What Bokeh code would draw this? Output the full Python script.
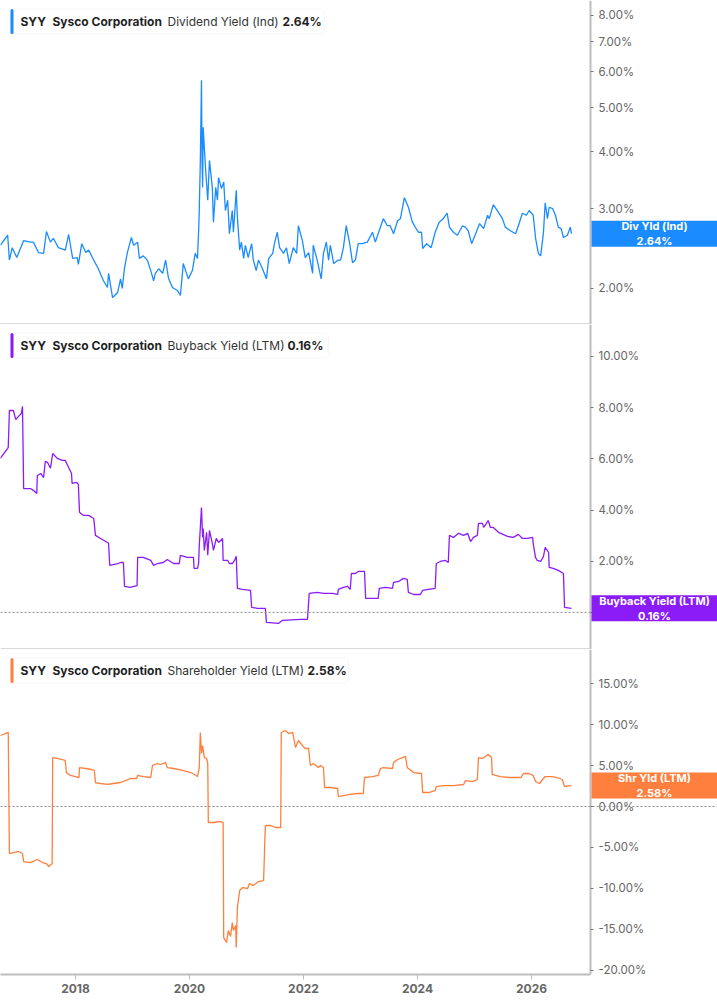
import math

from bokeh.plotting import figure
from bokeh.layouts import column
from bokeh.models import Range1d, FixedTicker, PrintfTickFormatter, Span, BoxAnnotation, Label
from bokeh.embed import file_html
from bokeh.resources import INLINE

# ---- data (years as decimals, values in %) ----
div_year = [2016.68, 2016.81, 2016.84, 2016.89, 2016.97, 2017.09, 2017.21, 2017.26, 2017.35, 2017.44,
            2017.49, 2017.56, 2017.61, 2017.70, 2017.82, 2017.88, 2017.95, 2018.03, 2018.05, 2018.11,
            2018.18, 2018.23, 2018.32, 2018.40, 2018.49, 2018.56, 2018.58, 2018.65, 2018.74, 2018.79,
            2018.82, 2018.86, 2018.91, 2018.98, 2019.02, 2019.09, 2019.12, 2019.19, 2019.26, 2019.32,
            2019.37, 2019.40, 2019.46, 2019.53, 2019.58, 2019.63, 2019.70, 2019.79, 2019.84, 2019.88,
            2019.89, 2019.98, 2020.05, 2020.10, 2020.14, 2020.16, 2020.17, 2020.19, 2020.21, 2020.22,
            2020.23, 2020.24, 2020.28, 2020.32, 2020.35, 2020.40, 2020.42, 2020.46, 2020.49, 2020.51,
            2020.56, 2020.60, 2020.63, 2020.67, 2020.70, 2020.75, 2020.77, 2020.82, 2020.84, 2020.88,
            2020.91, 2020.95, 2020.98, 2021.03, 2021.09, 2021.12, 2021.17, 2021.21, 2021.28, 2021.35,
            2021.39, 2021.46, 2021.49, 2021.54, 2021.58, 2021.65, 2021.70, 2021.75, 2021.82, 2021.88,
            2021.91, 2021.98, 2022.03, 2022.09, 2022.16, 2022.17, 2022.24, 2022.31, 2022.35, 2022.40,
            2022.44, 2022.47, 2022.53, 2022.61, 2022.65, 2022.70, 2022.75, 2022.81, 2022.86, 2022.91,
            2022.96, 2023.03, 2023.12, 2023.21, 2023.26, 2023.31, 2023.40, 2023.47, 2023.52, 2023.58,
            2023.65, 2023.70, 2023.77, 2023.84, 2023.91, 2023.96, 2024.02, 2024.07, 2024.09, 2024.16,
            2024.24, 2024.31, 2024.38, 2024.45, 2024.52, 2024.56, 2024.63, 2024.70, 2024.79, 2024.84,
            2024.89, 2024.95, 2025.02, 2025.09, 2025.16, 2025.23, 2025.26, 2025.33, 2025.40, 2025.49,
            2025.54, 2025.63, 2025.72, 2025.77, 2025.84, 2025.91, 2025.96, 2026.03, 2026.07, 2026.12,
            2026.16, 2026.19, 2026.21, 2026.24, 2026.28, 2026.31, 2026.37, 2026.42, 2026.47, 2026.52,
            2026.56, 2026.63, 2026.68, 2026.70]
div_yield = [2.49, 2.62, 2.31, 2.46, 2.34, 2.55, 2.53, 2.53, 2.40, 2.39,
             2.67, 2.53, 2.58, 2.46, 2.43, 2.63, 2.33, 2.34, 2.26, 2.51,
             2.40, 2.43, 2.31, 2.21, 2.08, 2.01, 2.16, 1.91, 1.96, 2.10,
             2.00, 2.22, 2.40, 2.59, 2.49, 2.53, 2.33, 2.36, 2.31, 2.19,
             2.08, 2.16, 2.21, 2.16, 2.31, 2.11, 2.01, 1.98, 1.93, 2.19,
             2.27, 2.10, 2.19, 2.39, 2.33, 2.68, 2.93, 3.83, 5.75, 3.83,
             3.34, 4.53, 3.70, 3.13, 3.83, 3.34, 2.80, 3.34, 3.13, 3.51,
             3.32, 3.43, 2.97, 3.13, 2.64, 2.97, 2.66, 3.29, 2.87, 2.43,
             2.53, 2.33, 2.49, 2.34, 2.51, 2.31, 2.19, 2.31, 2.21, 2.10,
             2.33, 2.39, 2.51, 2.66, 2.46, 2.39, 2.46, 2.27, 2.46, 2.39,
             2.75, 2.55, 2.34, 2.40, 2.16, 2.49, 2.31, 2.10, 2.39, 2.53,
             2.31, 2.49, 2.27, 2.31, 2.31, 2.46, 2.75, 2.51, 2.28, 2.31,
             2.51, 2.51, 2.53, 2.66, 2.53, 2.64, 2.85, 2.75, 2.75, 2.64,
             2.82, 2.85, 3.17, 3.02, 2.80, 2.73, 2.66, 2.66, 2.45, 2.51,
             2.46, 2.66, 2.80, 2.85, 2.93, 2.73, 2.66, 2.62, 2.75, 2.73,
             2.68, 2.51, 2.64, 2.78, 2.71, 2.90, 2.85, 3.06, 2.97, 2.85,
             2.73, 2.68, 2.64, 2.75, 2.93, 2.90, 2.97, 2.90, 2.59, 2.39,
             2.36, 2.53, 2.66, 3.09, 2.85, 3.02, 3.00, 2.90, 2.73, 2.71,
             2.59, 2.62, 2.73, 2.64]

buy_year = [2016.68, 2016.81, 2016.82, 2016.84, 2016.91, 2016.95, 2017.00, 2017.05, 2017.07, 2017.09,
            2017.21, 2017.26, 2017.32, 2017.33, 2017.39, 2017.44, 2017.47, 2017.51, 2017.56, 2017.60,
            2017.68, 2017.77, 2017.82, 2017.88, 2017.93, 2017.94, 2018.02, 2018.05, 2018.07, 2018.14,
            2018.23, 2018.32, 2018.35, 2018.44, 2018.56, 2018.58, 2018.60, 2018.74, 2018.79, 2018.84,
            2018.86, 2018.96, 2019.08, 2019.09, 2019.19, 2019.32, 2019.37, 2019.44, 2019.54, 2019.61,
            2019.72, 2019.82, 2019.84, 2019.96, 2020.07, 2020.08, 2020.14, 2020.16, 2020.17, 2020.21,
            2020.23, 2020.24, 2020.26, 2020.30, 2020.32, 2020.35, 2020.40, 2020.42, 2020.47, 2020.51,
            2020.58, 2020.59, 2020.67, 2020.70, 2020.75, 2020.79, 2020.82, 2020.84, 2020.93, 2021.07,
            2021.09, 2021.19, 2021.33, 2021.35, 2021.56, 2021.63, 2021.95, 2022.07, 2022.10, 2022.24,
            2022.35, 2022.51, 2022.60, 2022.61, 2022.70, 2022.77, 2022.82, 2022.84, 2022.91, 2022.96,
            2023.07, 2023.09, 2023.21, 2023.31, 2023.33, 2023.44, 2023.56, 2023.58, 2023.67, 2023.75,
            2023.82, 2023.84, 2023.93, 2024.05, 2024.09, 2024.19, 2024.31, 2024.33, 2024.40, 2024.49,
            2024.54, 2024.56, 2024.63, 2024.72, 2024.81, 2024.88, 2024.93, 2024.98, 2025.05, 2025.07,
            2025.14, 2025.16, 2025.21, 2025.24, 2025.28, 2025.33, 2025.42, 2025.58, 2025.68, 2025.77,
            2025.84, 2025.93, 2026.02, 2026.03, 2026.07, 2026.10, 2026.16, 2026.21, 2026.24, 2026.30,
            2026.31, 2026.38, 2026.47, 2026.56, 2026.58, 2026.70]
buy_yield = [6.02, 6.41, 6.45, 7.89, 7.89, 7.54, 7.66, 7.77, 8.05, 4.84,
             4.84, 4.77, 4.65, 5.35, 5.43, 5.27, 5.90, 5.86, 5.63, 6.21,
             6.02, 5.94, 5.94, 5.66, 5.43, 5.04, 5.08, 5.00, 3.91, 3.79,
             3.79, 3.67, 3.01, 2.89, 2.73, 2.70, 1.84, 1.91, 1.95, 1.95,
             1.02, 0.98, 1.05, 2.15, 2.15, 2.03, 1.84, 1.91, 1.95, 2.07,
             1.91, 1.91, 2.23, 2.15, 2.15, 1.72, 1.72, 1.91, 2.54, 4.10,
             2.93, 3.28, 2.42, 3.13, 2.23, 3.20, 2.70, 2.42, 2.89, 2.73,
             2.89, 2.03, 2.03, 1.91, 1.91, 2.03, 2.19, 0.94, 0.90, 0.86,
             0.20, 0.16, 0.16, -0.39, -0.43, -0.31, -0.27, -0.27, 0.74, 0.78,
             0.74, 0.74, 0.70, 0.90, 0.98, 1.02, 0.90, 1.52, 1.52, 1.60,
             1.60, 0.55, 0.55, 0.55, 0.94, 0.98, 0.94, 1.17, 1.21, 1.33,
             1.29, 0.78, 0.70, 0.70, 0.86, 0.90, 0.94, 1.91, 1.99, 2.03,
             1.95, 3.01, 2.93, 3.09, 3.01, 3.09, 2.77, 2.93, 3.01, 3.48,
             3.48, 3.32, 3.48, 3.59, 3.32, 3.32, 3.13, 2.97, 2.93, 3.05,
             2.89, 2.89, 2.93, 2.70, 2.15, 2.03, 1.99, 2.19, 2.54, 2.34,
             1.76, 1.72, 1.64, 1.52, 0.20, 0.16]

shr_year = [2016.68, 2016.77, 2016.82, 2016.84, 2016.91, 2017.00, 2017.07, 2017.09, 2017.21, 2017.33,
            2017.42, 2017.49, 2017.53, 2017.59, 2017.60, 2017.70, 2017.82, 2017.84, 2017.91, 2018.00,
            2018.06, 2018.07, 2018.18, 2018.28, 2018.33, 2018.35, 2018.44, 2018.56, 2018.67, 2018.79,
            2018.88, 2018.96, 2019.07, 2019.09, 2019.19, 2019.32, 2019.35, 2019.44, 2019.49, 2019.58,
            2019.61, 2019.72, 2019.88, 2020.02, 2020.09, 2020.14, 2020.17, 2020.19, 2020.21, 2020.23,
            2020.26, 2020.30, 2020.32, 2020.33, 2020.42, 2020.53, 2020.59, 2020.60, 2020.65, 2020.68,
            2020.72, 2020.75, 2020.77, 2020.81, 2020.82, 2020.84, 2020.88, 2020.93, 2021.02, 2021.05,
            2021.12, 2021.21, 2021.30, 2021.33, 2021.42, 2021.51, 2021.60, 2021.61, 2021.68, 2021.74,
            2021.81, 2021.86, 2021.91, 2021.98, 2022.03, 2022.09, 2022.12, 2022.17, 2022.26, 2022.30,
            2022.35, 2022.37, 2022.47, 2022.60, 2022.61, 2022.70, 2022.82, 2022.95, 2023.05, 2023.07,
            2023.21, 2023.31, 2023.35, 2023.40, 2023.56, 2023.58, 2023.65, 2023.74, 2023.79, 2023.82,
            2023.93, 2024.07, 2024.09, 2024.19, 2024.31, 2024.33, 2024.45, 2024.63, 2024.81, 2024.84,
            2024.96, 2025.05, 2025.07, 2025.14, 2025.19, 2025.24, 2025.30, 2025.31, 2025.45, 2025.63,
            2025.81, 2025.86, 2025.95, 2026.03, 2026.07, 2026.14, 2026.21, 2026.24, 2026.37, 2026.45,
            2026.54, 2026.58, 2026.70]
shr_yield = [8.67, 8.91, 9.04, -5.74, -5.62, -5.49, -5.74, -6.72, -6.84, -6.47,
             -6.84, -6.96, -7.33, -6.96, 5.98, 5.86, 5.62, 4.15, 3.79, 3.66,
             3.54, 4.76, 4.64, 4.52, 4.40, 2.93, 2.81, 2.69, 2.81, 2.93,
             3.17, 3.42, 3.42, 3.79, 3.66, 3.54, 5.01, 5.25, 5.13, 5.37,
             4.76, 4.64, 4.40, 4.15, 3.91, 3.66, 4.64, 9.04, 6.47, 7.45,
             5.98, 5.86, 5.25, -1.95, -1.95, -1.83, -1.95, -16.00, -16.60, -15.14,
             -15.87, -14.16, -15.14, -14.53, -17.22, -12.33, -10.26, -9.89, -10.01, -9.40,
             -9.65, -9.16, -9.04, -2.32, -2.32, -2.56, -2.56, 9.04, 9.28, 8.91,
             9.04, 7.20, 8.06, 7.45, 7.08, 7.08, 5.01, 5.25, 4.76, 5.01,
             4.76, 2.32, 2.32, 2.20, 1.22, 1.34, 1.47, 1.59, 1.59, 3.54,
             3.66, 3.79, 4.64, 4.76, 4.64, 5.37, 5.74, 5.98, 6.11, 4.76,
             4.15, 4.03, 1.71, 1.71, 1.95, 2.44, 2.56, 2.56, 2.69, 3.17,
             3.05, 3.30, 5.98, 5.86, 6.11, 6.35, 5.98, 3.91, 3.66, 3.54,
             3.54, 4.03, 4.03, 3.79, 3.05, 2.81, 3.42, 3.66, 3.66, 3.54,
             3.30, 2.44, 2.58]

year_ticks = [2018, 2020, 2022, 2024, 2026]
div_ticks = [2, 3, 4, 5, 6, 7, 8]
buy_ticks = [0, 2, 4, 6, 8, 10]
shr_ticks = [-20, -15, -10, -5, 0, 5, 10, 15]

# ---- layout / styling ----
FONT = "Inter"
W = 717            # full frame width
AX = 590           # pixel position of the value axis inside the frame
BLUE, PURPLE, ORANGE = "#1a8cff", "#8a1cf7", "#ff7f3e"

x_start, x_axis = 2016.684, 2027.035
x_end = x_start + (x_axis - x_start) * W / AX
x_range = Range1d(x_start, x_end)


def make_panel(years, vals, color, fh, y_start, y_end, ticks, log, title_parts, head_x,
               head_right, tag, with_x_axis=False, zero_line=False):
    p = figure(frame_width=W, frame_height=fh, x_range=x_range,
               y_range=Range1d(y_start, y_end), y_axis_type="log" if log else "linear",
               y_axis_location="right", toolbar_location=None, output_backend="svg",
               min_border_left=0, min_border_top=0, min_border_right=0,
               min_border_bottom=31 if with_x_axis else 0)
    p.outline_line_color = None
    p.xgrid.visible = False
    p.ygrid.visible = False

    # value axis drawn inside the frame at a fixed x
    ya = p.yaxis[0]
    ya.fixed_location = x_axis
    ya.ticker = FixedTicker(ticks=ticks, minor_ticks=[])
    ya.formatter = PrintfTickFormatter(format="%.2f%%")
    ya.axis_line_color = "#bdbdbd"
    ya.axis_line_width = 2
    ya.major_tick_in = 0
    ya.major_tick_out = 3
    ya.major_tick_line_color = "#777777"
    ya.minor_tick_line_color = None
    ya.major_label_text_font = FONT
    ya.major_label_text_font_size = "11.5px"
    ya.major_label_text_color = "#666666"
    ya.major_label_standoff = 5

    xa = p.xaxis[0]
    if with_x_axis:
        xa.ticker = FixedTicker(ticks=year_ticks, minor_ticks=[])
        xa.formatter = PrintfTickFormatter(format="%d")
        xa.bounds = (x_start, x_axis)
        xa.axis_line_color = "#bdbdbd"
        xa.axis_line_width = 2
        xa.major_tick_in = 0
        xa.major_tick_out = 5
        xa.major_tick_line_color = "#bdbdbd"
        xa.minor_tick_line_color = None
        xa.major_label_text_font = FONT
        xa.major_label_text_font_size = "12px"
        xa.major_label_text_font_style = "bold"
        xa.major_label_text_color = "#666666"
        xa.major_label_standoff = 4
    else:
        xa.visible = False
        # thin separator under the panel
        p.add_layout(BoxAnnotation(left=0, right=AX, bottom=0, top=1.2,
                                   left_units="screen", right_units="screen",
                                   top_units="screen", bottom_units="screen",
                                   fill_color="#cccccc", fill_alpha=1, line_color=None))

    if zero_line:
        p.add_layout(Span(location=0, dimension="width", line_color="#8c8c8c",
                          line_dash="2 2", line_width=1))

    p.line(years, vals, color=color, line_width=1.3)

    # header box
    top, bot = fh - 8.5, fh - 33.5
    p.add_layout(BoxAnnotation(left=10, right=head_right, top=top, bottom=bot,
                               left_units="screen", right_units="screen",
                               top_units="screen", bottom_units="screen",
                               fill_color="white", fill_alpha=1, line_color="#e4e4e4",
                               line_width=1, border_radius=4))
    p.add_layout(BoxAnnotation(left=10, right=13, top=top, bottom=bot,
                               left_units="screen", right_units="screen",
                               top_units="screen", bottom_units="screen",
                               fill_color=color, fill_alpha=1, line_color=None,
                               border_radius=2))
    for (txt, bold), hx in zip(title_parts, head_x):
        p.add_layout(Label(x=hx, y=fh - 21, x_units="screen", y_units="screen",
                           text=txt, text_font=FONT, text_font_size="12px",
                           text_font_style="bold" if bold else "normal",
                           text_color="#1f1f1f" if bold else "#333333",
                           text_baseline="middle"))

    # last value tag on the axis
    last = vals[-1]
    half = 13
    if log:
        f = math.exp(half * math.log(y_end / y_start) / fh)
        t_top, t_bot = last * f, last / f
    else:
        d = half * (y_end - y_start) / fh
        t_top, t_bot = last + d, last - d
    p.add_layout(BoxAnnotation(left=AX + 1, right=W, top=t_top, bottom=t_bot,
                               left_units="screen", right_units="screen",
                               fill_color=color, fill_alpha=1, line_color=None))
    p.add_layout(Label(x=AX + 1 + (W - AX - 1) / 2, y=last, x_units="screen", y_units="data",
                       text=tag, text_font=FONT, text_font_size="11px", text_font_style="bold",
                       text_color="white", text_align="center", text_baseline="middle",
                       text_line_height=1.05))
    return p


p1 = make_panel(div_year, div_yield, BLUE, 324, 1.666, 8.62, div_ticks, True,
                [("SYY", True), ("Sysco Corporation", True), ("Dividend Yield (Ind)", False),
                 ("2.64%", True)],
                [20, 52, 167, 282], 324, "Div Yld (Ind)\n2.64%")
p2 = make_panel(buy_year, buy_yield, PURPLE, 325, -1.45, 11.25, buy_ticks, False,
                [("SYY", True), ("Sysco Corporation", True), ("Buyback Yield (LTM)", False),
                 ("0.16%", True)],
                [20, 52, 167, 287], 328, "Buyback Yield (LTM)\n0.16%", zero_line=True)
p3 = make_panel(shr_year, shr_yield, ORANGE, 325, -20.51, 19.17, shr_ticks, False,
                [("SYY", True), ("Sysco Corporation", True), ("Shareholder Yield (LTM)", False),
                 ("2.58%", True)],
                [20, 52, 167, 307], 348, "Shr Yld (LTM)\n2.58%", with_x_axis=True, zero_line=True)

layout = column(p1, p2, p3, spacing=0)

open("out.html", "w").write(file_html(layout, INLINE))
